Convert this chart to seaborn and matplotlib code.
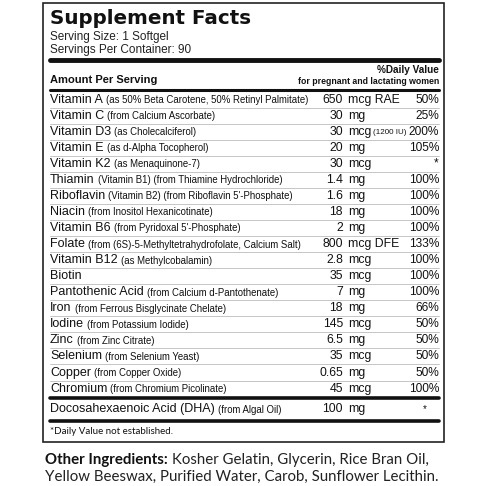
import matplotlib
matplotlib.use("Agg")
import matplotlib.pyplot as plt
import seaborn as sns

sns.set_theme(style="white")
plt.rcParams['font.family'] = ['Liberation Sans', 'DejaVu Sans']

nutrients = ["Vitamin A", "Vitamin C", "Vitamin D3", "Vitamin E", "Vitamin K2", "Thiamin", "Riboflavin",
             "Niacin", "Vitamin B6", "Folate", "Vitamin B12", "Biotin", "Pantothenic Acid", "Iron",
             "Iodine", "Zinc", "Selenium", "Copper", "Chromium"]
sources = ["(as 50% Beta Carotene, 50% Retinyl Palmitate)", "(from Calcium Ascorbate)", "(as Cholecalciferol)",
           "(as d-Alpha Tocopherol)", "(as Menaquinone-7)", "(Vitamin B1) (from Thiamine Hydrochloride)",
           "(Vitamin B2) (from Riboflavin 5'-Phosphate)", "(from Inositol Hexanicotinate)",
           "(from Pyridoxal 5'-Phosphate)", "(from (6S)-5-Methyltetrahydrofolate, Calcium Salt)",
           "(as Methylcobalamin)", "", "(from Calcium d-Pantothenate)", "(from Ferrous Bisglycinate Chelate)",
           "(from Potassium Iodide)", "(from Zinc Citrate)", "(from Selenium Yeast)", "(from Copper Oxide)",
           "(from Chromium Picolinate)"]
amounts = ["650", "30", "30", "20", "30", "1.4", "1.6", "18", "2", "800", "2.8", "35", "7", "18", "145",
           "6.5", "35", "0.65", "45"]
units = ["mcg RAE", "mg", "mcg", "mg", "mcg", "mg", "mg", "mg", "mg", "mcg DFE", "mcg", "mcg", "mg", "mg",
         "mcg", "mg", "mcg", "mg", "mcg"]
unit_notes = ["", "", "(1200 IU)", "", "", "", "", "", "", "", "", "", "", "", "", "", "", "", ""]
daily_values = ["50%", "25%", "200%", "105%", "*", "100%", "100%", "100%", "100%", "133%", "100%", "100%",
                "100%", "66%", "50%", "50%", "50%", "50%", "100%"]
dha_name, dha_source, dha_amount, dha_unit, dha_dv = "Docosahexaenoic Acid (DHA)", "(from Algal Oil)", "100", "mg", "*"

fig = plt.figure(figsize=(4.86, 4.86), dpi=100)
ax = fig.add_axes([0, 0, 1, 1])
ax.set_xlim(0, 486); ax.set_ylim(486, 0); ax.axis("off")
fig.canvas.draw()
r = fig.canvas.get_renderer()

def text_after(x, y, s1, s2, f1, f2):
    t = ax.text(x, y, s1, fontsize=f1, va="center", ha="left", color="#111")
    if s2:
        bb = t.get_window_extent(r)
        ax.text(bb.x1 + 3, y + 0.5, s2, fontsize=f2, va="center", ha="left", color="#111")

ax.add_patch(plt.Rectangle((43, 3), 401, 439, fill=False, lw=1.2, ec="#222"))
L, R = 50, 439
ax.text(L, 19, "Supplement Facts", fontsize=14.3, fontweight="heavy", va="center", family=["DejaVu Sans"], color="#111")
ax.text(L, 37, "Serving Size: 1 Softgel", fontsize=8.5, va="center", color="#222")
ax.text(L, 50, "Servings Per Container: 90", fontsize=8.5, va="center", color="#222")
ax.plot([L, R], [60.5, 60.5], color="#111", lw=3.5)
ax.text(R, 70, "%Daily Value", fontsize=7.2, fontweight="bold", ha="right", va="center", color="#111")
ax.text(L, 80, "Amount Per Serving", fontsize=8.0, fontweight="bold", va="center", color="#111")
ax.text(R, 82, "for pregnant and lactating women", fontsize=6.3, fontweight="bold", ha="right", va="center", color="#111")
ax.plot([L, R], [90, 90], color="#111", lw=2.2)

y0, dy = 99.5, 16.06
for i, n in enumerate(nutrients):
    y = y0 + i * dy
    text_after(L, y, n, sources[i], 9.0, 6.9)
    ax.text(343, y, amounts[i], fontsize=8.8, ha="right", va="center", color="#111")
    t = ax.text(348, y, units[i], fontsize=8.8, ha="left", va="center", color="#111")
    if unit_notes[i]:
        bb = t.get_window_extent(r)
        ax.text(bb.x1 + 2, y + 0.5, unit_notes[i], fontsize=5.8, ha="left", va="center", color="#111")
    ax.text(R, y, daily_values[i], fontsize=8.6, ha="right", va="center", color="#111")
    if i < len(nutrients) - 1:
        ax.plot([L, R], [y + dy / 2, y + dy / 2], color="#bbb", lw=0.6)

ax.plot([L, R], [398, 398], color="#111", lw=2.6)
yd = 409
text_after(L, yd, dha_name, dha_source, 9.0, 6.9)
ax.text(343, yd, dha_amount, fontsize=8.8, ha="right", va="center", color="#111")
ax.text(348, yd, dha_unit, fontsize=8.8, ha="left", va="center", color="#111")
ax.text(425, yd, dha_dv, fontsize=7, ha="center", va="center", color="#111")
ax.plot([L, R], [421, 421], color="#111", lw=2.6)
ax.text(L, 431, "*Daily Value not established.", fontsize=7.0, va="center", family=["Lato", "DejaVu Sans"], color="#111")

y = 460
t = ax.text(45, y, "Other Ingredients:", fontsize=10.8, fontweight="bold", va="center", family=["Lato", "DejaVu Sans"], color="#111")
bb = t.get_window_extent(r)
ax.text(bb.x1 + 4, y, "Kosher Gelatin, Glycerin, Rice Bran Oil,", fontsize=10.8, va="center", family=["Lato", "DejaVu Sans"], color="#222")
ax.text(45, 477, "Yellow Beeswax, Purified Water, Carob, Sunflower Lecithin.", fontsize=10.8, va="center", family=["Lato", "DejaVu Sans"], color="#222")

fig.savefig("out.png", dpi=100, facecolor="white")
